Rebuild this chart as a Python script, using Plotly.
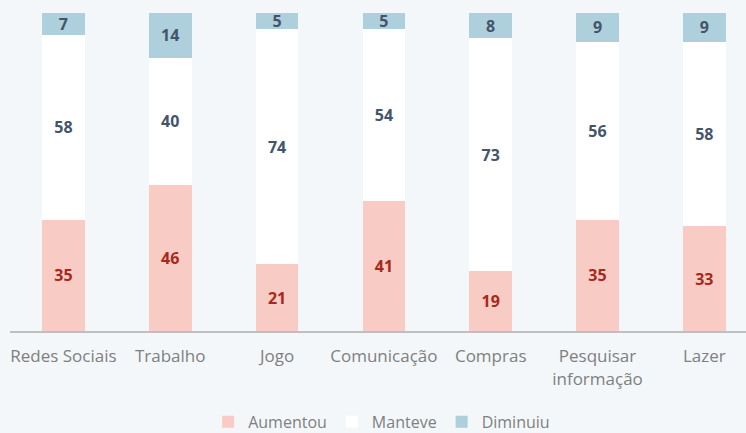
import plotly.graph_objects as go

categories = ["Redes Sociais", "Trabalho", "Jogo", "Comunicação", "Compras",
              "Pesquisar<br>informação", "Lazer"]
aumentou = [35, 46, 21, 41, 19, 35, 33]
manteve = [58, 40, 74, 54, 73, 56, 58]
diminuiu = [7, 14, 5, 5, 8, 9, 9]

bg = "#f3f7fa"
font_family = "Open Sans, Noto Sans, sans-serif"

series = [
    ("Aumentou", aumentou, "#f8cbc5", "#a8281b"),
    ("Manteve", manteve, "#ffffff", "#44546a"),
    ("Diminuiu", diminuiu, "#aecfdc", "#44546a"),
]

fig = go.Figure()
for name, vals, color, tcolor in series:
    fig.add_trace(go.Bar(
        name=name, x=categories, y=vals,
        marker=dict(color=color, line=dict(width=0)),
        width=0.4,
        text=[str(v) for v in vals],
        textposition="inside", insidetextanchor="middle",
        textangle=0, constraintext="none",
        textfont=dict(family=font_family, size=16, color=tcolor, weight="bold"),
        hoverinfo="skip",
    ))

fig.update_layout(
    barmode="stack",
    width=746, height=433,
    margin=dict(l=10, r=0, t=13, b=102, autoexpand=False),
    paper_bgcolor=bg, plot_bgcolor=bg,
    font=dict(family=font_family, size=16, color="#7f7f7f"),
    showlegend=True,
    legend=dict(orientation="h", x=0.505, xanchor="center", y=-0.286, yanchor="middle",
                font=dict(size=16, color="#7f7f7f"), traceorder="normal",
                itemwidth=30),
    xaxis=dict(range=[-0.5, 6.39], showgrid=False, showline=True,
               linecolor="#bfbfbf", linewidth=2, ticks="", automargin=False,
               ticklabelstandoff=9,
               tickfont=dict(size=17, color="#7f7f7f")),
    yaxis=dict(range=[0, 100], visible=False),
)

fig.write_html("out.html")
